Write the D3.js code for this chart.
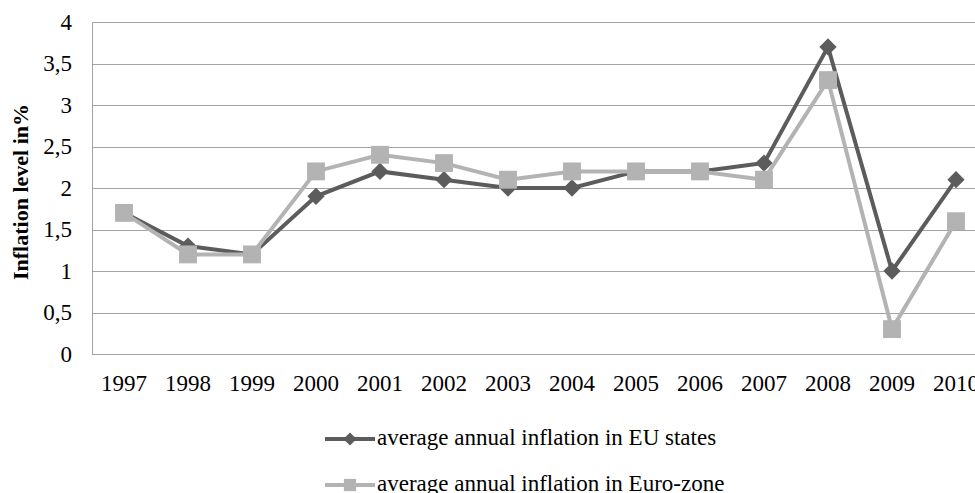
<!DOCTYPE html>
<html>
<head>
<meta charset="utf-8">
<script src="https://cdn.jsdelivr.net/npm/d3@7"></script>
<style>
  html, body { margin: 0; padding: 0; background: #fff; overflow: hidden; }
</style>
</head>
<body>
<div id="chart"></div>
<script>
'use strict';

var years = ['1997', '1998', '1999', '2000', '2001', '2002', '2003', '2004', '2005', '2006', '2007', '2008', '2009', '2010'];
var euStates = [1.7, 1.3, 1.2, 1.9, 2.2, 2.1, 2.0, 2.0, 2.2, 2.2, 2.3, 3.7, 1.0, 2.1];
var euroZone = [1.7, 1.2, 1.2, 2.2, 2.4, 2.3, 2.1, 2.2, 2.2, 2.2, 2.1, 3.3, 0.3, 1.6];
var yTicks = [0, 0.5, 1, 1.5, 2, 2.5, 3, 3.5, 4];
var seriesNames = ['average annual inflation in EU states', 'average annual inflation in Euro-zone'];

var width = 975,
    height = 493,
    plotLeft = 92,
    plotTop = 22,
    plotBottom = 354,
    plotRight = plotLeft + years.length * 64,
    darkColor = '#5c5c5c',
    lightColor = '#b3b3b3',
    gridColor = '#a3a3a3',
    fontSize = '23px';

var svg = d3.select('#chart').append('svg').attr('width', width).attr('height', height)
    .attr('font-family', '"Liberation Serif", "Times New Roman", "DejaVu Serif", serif');

var x = d3.scaleBand().domain(years).range([plotLeft, plotRight]),
    y = d3.scaleLinear().domain([0, 4]).range([plotBottom, plotTop]);

function cx(i) {
    return x(years[i]) + x.bandwidth() / 2;
}

// gridlines
svg.append('g').selectAll('line').data(yTicks).enter().append('line')
    .attr('x1', plotLeft).attr('x2', plotRight)
    .attr('y1', function (d) { return Math.round(y(d)) + 0.5; })
    .attr('y2', function (d) { return Math.round(y(d)) + 0.5; })
    .style('stroke', gridColor).style('stroke-width', 1);

svg.append('line').attr('x1', plotLeft + 0.5).attr('x2', plotLeft + 0.5).attr('y1', plotTop).attr('y2', plotBottom)
    .style('stroke', gridColor).style('stroke-width', 1);

// y tick labels
svg.append('g').selectAll('text').data(yTicks).enter().append('text')
    .attr('x', 72).attr('y', function (d) { return y(d); }).attr('dy', '0.34em')
    .style('text-anchor', 'end').style('font-size', fontSize)
    .text(function (d) { return String(d).replace('.', ','); });

// x tick labels
svg.append('g').selectAll('text').data(years).enter().append('text')
    .attr('x', function (d, i) { return cx(i); }).attr('y', 391)
    .style('text-anchor', 'middle').style('font-size', fontSize)
    .text(function (d) { return d; });

// y title
svg.append('text').attr('transform', 'translate(28,' + ((plotTop + plotBottom) / 2 + 4) + ') rotate(-90)')
    .style('text-anchor', 'middle').style('font-size', '22px').style('font-weight', 'bold')
    .text('Inflation level in%');

var line = d3.line()
    .x(function (d, i) { return cx(i); })
    .y(function (d) { return y(d); });

var diamond = d3.symbol().type(d3.symbolDiamond2).size(190),
    square = d3.symbol().type(d3.symbolSquare).size(320);

svg.append('path').datum(euStates).attr('d', line)
    .style('fill', 'none').style('stroke', darkColor).style('stroke-width', 4);
svg.append('g').selectAll('path').data(euStates).enter().append('path')
    .attr('d', diamond)
    .attr('transform', function (d, i) { return 'translate(' + cx(i) + ',' + y(d) + ')'; })
    .style('fill', darkColor);

svg.append('path').datum(euroZone).attr('d', line)
    .style('fill', 'none').style('stroke', lightColor).style('stroke-width', 4);
svg.append('g').selectAll('path').data(euroZone).enter().append('path')
    .attr('d', square)
    .attr('transform', function (d, i) { return 'translate(' + cx(i) + ',' + y(d) + ')'; })
    .style('fill', lightColor);

// legend
var legend = svg.append('g').selectAll('g').data(seriesNames).enter().append('g')
    .attr('transform', function (d, i) { return 'translate(325,' + (439 + i * 46) + ')'; });
legend.append('line').attr('x1', 0).attr('x2', 50).attr('y1', 0).attr('y2', 0)
    .style('stroke', function (d, i) { return i ? lightColor : darkColor; }).style('stroke-width', 4);
legend.append('path')
    .attr('d', function (d, i) { return i ? d3.symbol().type(d3.symbolSquare).size(150)() : d3.symbol().type(d3.symbolDiamond2).size(110)(); })
    .attr('transform', 'translate(25,0)')
    .style('fill', function (d, i) { return i ? lightColor : darkColor; });
legend.append('text').attr('x', 52).attr('y', 6).style('font-size', fontSize)
    .text(function (d) { return d; });
</script>
</body>
</html>
